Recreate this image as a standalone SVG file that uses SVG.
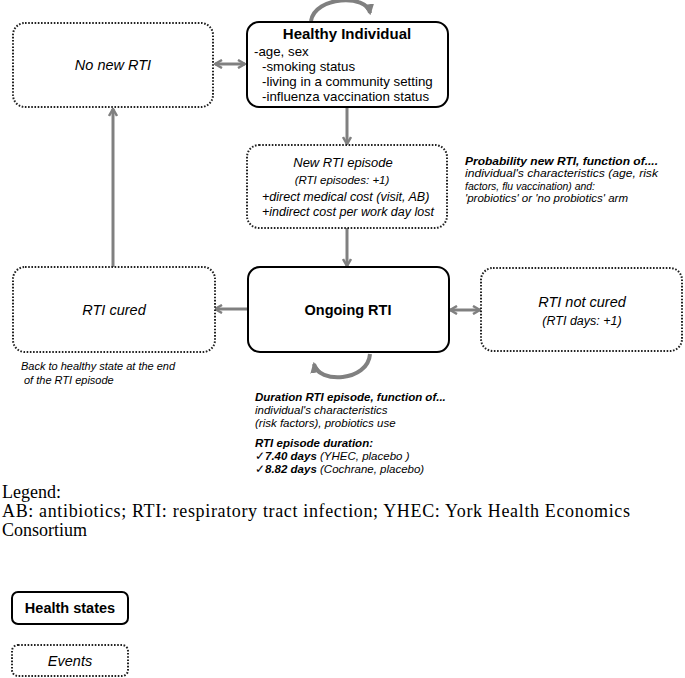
<svg xmlns="http://www.w3.org/2000/svg" width="685" height="678" viewBox="0 0 685 678">
<style>
  text { font-family: "Liberation Sans", Arial, sans-serif; fill: #000; }
  .state { fill: #fff; stroke: #000; stroke-width: 2; }
  .event { fill: #fff; stroke: #222; stroke-width: 2; stroke-dasharray: 1.6 1.6; }
  .conn { fill: none; stroke: #808080; stroke-width: 3; }
  .loop { fill: none; stroke: #808080; stroke-width: 4; }
  .b { font-weight: bold; }
  .i { font-style: italic; }
  .legend { font-family: "Liberation Serif", "Times New Roman", serif; font-size: 18px; }
</style>
<defs>
  <marker id="ah" viewBox="0 0 10 10" refX="9" refY="5" markerWidth="10" markerHeight="10" markerUnits="userSpaceOnUse" orient="auto-start-reverse">
    <path d="M2,1 L9,5 L2,9" fill="none" stroke="#808080" stroke-width="2.5"/>
  </marker>
  <marker id="lh" viewBox="0 0 10 10" refX="8" refY="5" markerWidth="11" markerHeight="11" markerUnits="userSpaceOnUse" orient="auto">
    <path d="M0,0 L10,5 L0,10 Z" fill="#808080"/>
  </marker>
</defs>

<g id="connectors">
  <line class="conn" x1="215" y1="64" x2="245" y2="64" marker-start="url(#ah)" marker-end="url(#ah)"/>
  <line class="conn" x1="347" y1="107" x2="347" y2="144" marker-end="url(#ah)"/>
  <line class="conn" x1="347" y1="228" x2="347" y2="266" marker-end="url(#ah)"/>
  <line class="conn" x1="247" y1="309" x2="215" y2="309" marker-end="url(#ah)"/>
  <line class="conn" x1="450" y1="310" x2="480" y2="310" marker-start="url(#ah)" marker-end="url(#ah)"/>
  <line class="conn" x1="113" y1="267" x2="113" y2="109" marker-end="url(#ah)"/>
  <path class="loop" d="M311 21 C315 -4, 367 -6, 370 13" marker-end="url(#lh)"/>
  <path class="loop" d="M370 354 C368 382, 318 384, 314 364" marker-end="url(#lh)"/>
</g>

<g id="no-new-rti">
  <rect class="event" x="13" y="23" width="200" height="84" rx="12"/>
  <text class="i" x="113" y="70" font-size="14.5" text-anchor="middle">No new RTI</text>
</g>

<g id="healthy-individual">
  <rect class="state" x="247" y="22" width="201" height="85" rx="12"/>
  <text class="b" x="347" y="39" font-size="15" text-anchor="middle">Healthy Individual</text>
  <text x="254" y="56" font-size="13.3">-age, sex</text>
  <text x="262" y="71" font-size="13.3">-smoking status</text>
  <text x="262" y="86" font-size="13.3">-living in a community setting</text>
  <text x="262" y="101" font-size="13.3">-influenza vaccination status</text>
</g>

<g id="new-rti-episode">
  <rect class="event" x="247" y="145" width="200" height="83" rx="12"/>
  <text class="i" x="343" y="167" font-size="13" text-anchor="middle">New RTI episode</text>
  <text class="i" x="342" y="184" font-size="11.5" text-anchor="middle">(RTI episodes: +1)</text>
  <text class="i" x="262" y="201" font-size="12.5">+direct medical cost (visit, AB)</text>
  <text class="i" x="262" y="216" font-size="12.5">+indirect cost per work day lost</text>
</g>

<g id="probability-note">
  <text class="b i" x="465" y="164.5" font-size="10.8" textLength="193" lengthAdjust="spacingAndGlyphs">Probability new RTI, function of....</text>
  <text class="i" x="465" y="177" font-size="10.8" textLength="193" lengthAdjust="spacingAndGlyphs">individual's characteristics (age, risk</text>
  <text class="i" x="465" y="189.5" font-size="10.8" textLength="130" lengthAdjust="spacingAndGlyphs">factors, flu vaccination) and:</text>
  <text class="i" x="465" y="202" font-size="10.8" textLength="163" lengthAdjust="spacingAndGlyphs">'probiotics' or 'no probiotics' arm</text>
</g>

<g id="rti-cured">
  <rect class="event" x="13" y="267" width="202" height="85" rx="12"/>
  <text class="i" x="114" y="315" font-size="14.5" text-anchor="middle">RTI cured</text>
  <text class="i" x="21" y="370" font-size="11">Back to healthy state at the end</text>
  <text class="i" x="24" y="384" font-size="11">of the RTI episode</text>
</g>

<g id="ongoing-rti">
  <rect class="state" x="248" y="267" width="201" height="85" rx="12"/>
  <text class="b" x="348" y="315" font-size="14.5" text-anchor="middle">Ongoing RTI</text>
</g>

<g id="rti-not-cured">
  <rect class="event" x="481" y="268" width="201" height="83" rx="12"/>
  <text class="i" x="582" y="307" font-size="14.5" text-anchor="middle">RTI not cured</text>
  <text class="i" x="582" y="325" font-size="12.5" text-anchor="middle">(RTI days: +1)</text>
</g>

<g id="duration-note">
  <text class="b i" x="255" y="401" font-size="11.5">Duration RTI episode, function of...</text>
  <text class="i" x="255" y="413.5" font-size="11.5">individual's characteristics</text>
  <text class="i" x="255" y="426.5" font-size="11.5">(risk factors), probiotics use</text>
  <text class="b i" x="255" y="447" font-size="11.5">RTI episode duration:</text>
  <text x="255" y="460" font-size="11.5">✓<tspan class="b i">7.40 days</tspan><tspan class="i"> (YHEC, placebo )</tspan></text>
  <text x="255" y="473" font-size="11.5">✓<tspan class="b i">8.82 days</tspan><tspan class="i"> (Cochrane, placebo)</tspan></text>
</g>

<g id="legend">
  <text class="legend" x="2" y="498">Legend:</text>
  <text class="legend" x="2" y="517" textLength="628" lengthAdjust="spacing">AB: antibiotics; RTI: respiratory tract infection; YHEC: York Health Economics</text>
  <text class="legend" x="2" y="536">Consortium</text>
  <g id="legend-health-states">
    <rect class="state" x="12" y="592" width="116" height="32" rx="6"/>
    <text class="b" x="70" y="613" font-size="14.5" text-anchor="middle">Health states</text>
  </g>
  <g id="legend-events">
    <rect class="event" x="12" y="645" width="116" height="31" rx="6"/>
    <text class="i" x="70" y="666" font-size="14.5" text-anchor="middle">Events</text>
  </g>
</g>
</svg>
